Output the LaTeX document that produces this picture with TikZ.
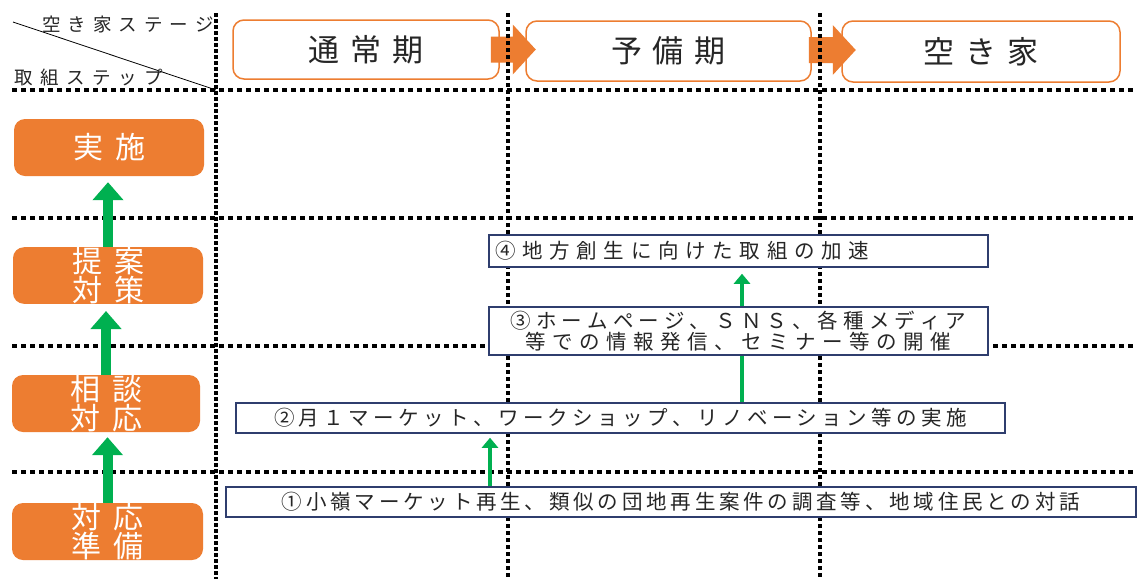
\documentclass[tikz,border=0pt]{standalone}
\usepackage{fontspec}
\setmainfont{Noto Sans CJK JP}
\usetikzlibrary{arrows.meta}
\definecolor{orng}{HTML}{ED7D31}
\definecolor{grn}{HTML}{00B050}
\definecolor{navy}{HTML}{2F3E6E}
\definecolor{txt}{HTML}{262626}
\def\lspgobble#1{}
\def\lspone#1{#1}
\newcommand\lsp[2]{\def\lspk{\kern#1\relax}\lspa#2\relax}
\def\lspa#1#2{#1\ifx#2\relax\expandafter\lspgobble\else\lspk\expandafter\lspone\fi{\lspa#2}}
\pgfdeclarelayer{bg}
\pgfdeclarelayer{mid}
\pgfsetlayers{bg,mid,main}
\begin{document}
\begin{tikzpicture}[x=1pt,y=-1pt,
  hdr/.style={draw=orng,line width=1.5pt,rounded corners=11pt,fill=white,inner sep=0pt,
    text=txt,font=\fontsize{31}{33}\selectfont},
  stepbox/.style={fill=orng,rounded corners=11pt,inner sep=0pt,text=white,
    font=\fontsize{30}{29}\selectfont,align=center},
  actbox/.style={draw=navy,line width=1.5pt,fill=white,inner sep=0pt,text=txt,
    font=\fontsize{20.5}{21}\selectfont,align=center},
  grid/.style={line width=4pt,dash pattern=on 4pt off 3pt},
  lgrid/.style={line width=4pt,dash pattern=on 4pt off 2pt},
  hgrid/.style={line width=4pt,dash pattern=on 5pt off 4pt},
  thick arrow/.style={draw=grn,line width=10pt,-{Triangle[length=18pt,width=30pt]}},
  thin arrow/.style={draw=grn,line width=4pt,-{Triangle[length=10pt,width=16pt]}},
  blockarrow/.style={fill=orng},
  corner text/.style={inner sep=0pt,text=txt,font=\fontsize{18.5}{19}\selectfont}]
\useasboundingbox (0,0) rectangle (1137,579);

% header stages and block arrows
\begin{pgfonlayer}{bg}
\fill[white] (0,0) rectangle (1137,579);
\node[hdr,minimum width=266pt,minimum height=59pt] (A) at (366,49.5) {\lsp{11pt}{通常期}};
\node[hdr,minimum width=285pt,minimum height=60pt] (B) at (668.5,51) {\lsp{11pt}{予備期}};
\node[hdr,minimum width=278pt,minimum height=61pt] (C) at (981,51.5) {\lsp{11pt}{空き家}};
\fill[blockarrow] ([shift={(-9,-13)}]A.east) -- ++(22,0) -- ++(0,-12) -- ++(23,25)
  -- ++(-23,25) -- ++(0,-12) -- ++(-22,0) -- cycle;
\fill[blockarrow] ([shift={(-3,-14)}]B.east) -- ++(24,0) -- ++(0,-12) -- ++(23,25)
  -- ++(-23,25) -- ++(0,-12) -- ++(-24,0) -- cycle;
\end{pgfonlayer}

% corner labels
\node[corner text,anchor=east] (stage) at (214,24) {\lsp{7pt}{空き家ステージ}};
\node[corner text,anchor=west] (step) at (14,77.5) {\lsp{7.5pt}{取組ステップ}};

% step boxes
\node[stepbox,minimum width=190pt,minimum height=57pt] (L4) at (109,147.5) {\lsp{12pt}{実施}};
\node[stepbox,minimum width=190pt,minimum height=55pt] (L3) at (108,275.5) {\lsp{12pt}{提案}\\\lsp{12pt}{対策}};
\node[stepbox,minimum width=188pt,minimum height=57pt] (L2) at (106,403.5) {\lsp{12pt}{相談}\\\lsp{12pt}{対応}};
\node[stepbox,minimum width=191pt,minimum height=57pt] (L1) at (107.5,531.5) {\lsp{12pt}{対応}\\\lsp{12pt}{準備}};

% action boxes
\node[actbox,minimum height=32pt,text width=487pt,inner xsep=6pt,align=left] (N4) at (738.5,251)
  {\lsp{6.7pt}{④地方創生に向けた取組の加速}};
\node[actbox,minimum width=499pt,minimum height=48pt] (N3) at (738.5,331)
  {\lsp{5.1pt}{③ホームページ、ＳＮＳ、各種メディア}\\\lsp{6.5pt}{等での情報発信、セミナー等の開催}};
\node[actbox,minimum width=769pt,minimum height=30pt] (N2) at (620.5,418)
  {\lsp{4.4pt}{②月１マーケット、ワークショップ、リノベーション等の実施}};
\node[actbox,minimum width=910pt,minimum height=30pt] (N1) at (681,502)
  {\lsp{3.8pt}{①小嶺マーケット再生、類似の団地再生案件の調査等、地域住民との対話}};

\coordinate (x1) at (490,0);
\coordinate (x2) at (742,0);

\begin{pgfonlayer}{mid}
% grid
\draw[lgrid] (216,13) -- (216,579);
\draw[grid] (508,13) -- (508,579);
\draw[grid] (820,13) -- (820,579);
\draw[hgrid] (12,90) -- (1137,90);
\draw[hgrid] (12,218) -- (1137,218);
\draw[hgrid] (12,346) -- (1137,346);
\draw[hgrid] (12,472) -- (1137,472);
\draw[line width=0.8pt] (13,22) -- (216,90);
% step arrows
\draw[thick arrow,shorten >=6pt] (L3.north) -- (L3.north |- L4.south);
\draw[thick arrow,shorten >=7pt] (L2.north) -- (L2.north |- L3.south);
\draw[thick arrow,shorten >=5pt] (L1.north) -- (L1.north |- L2.south);
% action arrows
\draw[thin arrow,shorten >=4pt] (N1.north -| x1) -- (N2.south -| x1);
\draw[thin arrow,shorten >=6pt] (N2.north -| x2) -- (N4.south -| x2);
\end{pgfonlayer}
\end{tikzpicture}
\end{document}
